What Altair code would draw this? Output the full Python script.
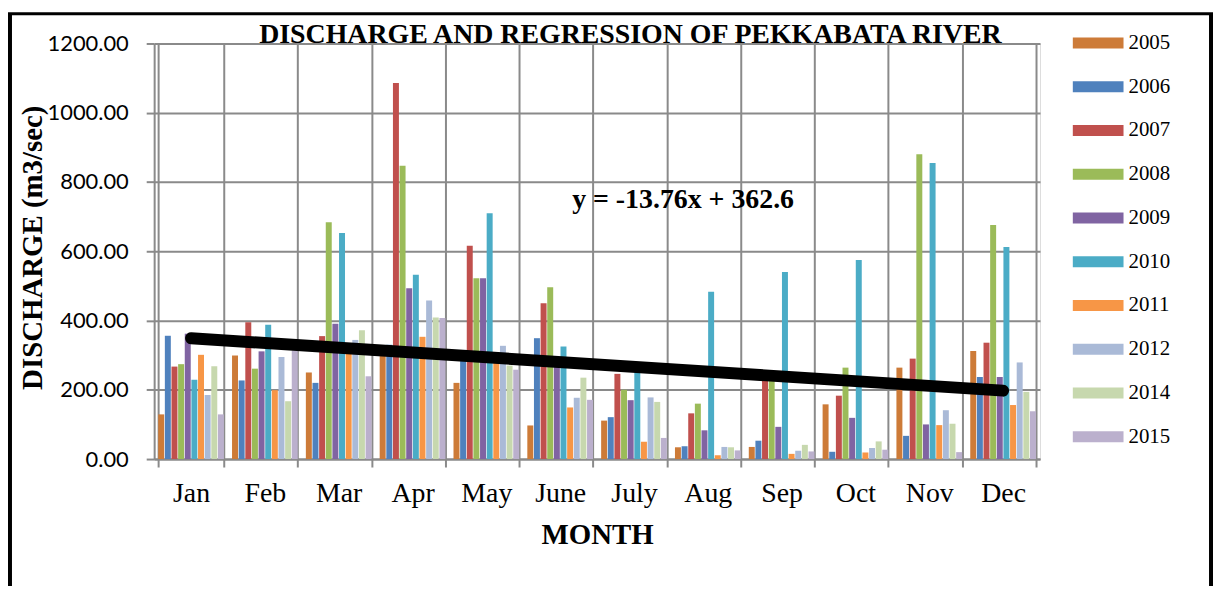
import altair as alt
import pandas as pd

months = ["Jan", "Feb", "Mar", "Apr", "May", "June", "July", "Aug", "Sep", "Oct", "Nov", "Dec"]
years = ["2005", "2006", "2007", "2008", "2009", "2010", "2011", "2012", "2014", "2015"]
colors = ["#CD7B38", "#4F81BD", "#C0504D", "#9BBB59", "#8064A2", "#4BACC6",
          "#F79646", "#AABAD7", "#C7D8AE", "#BBB0CD"]

# discharge per month (Jan..Dec) for each year, m3/sec
v2005 = [129, 299, 250, 327, 220, 97, 111, 34, 35, 158, 264, 312]
v2006 = [356, 227, 220, 330, 295, 349, 121, 37, 53, 21, 67, 237]
v2007 = [267, 395, 355, 1086, 616, 450, 246, 132, 238, 183, 290, 336]
v2008 = [274, 261, 684, 847, 522, 496, 200, 160, 232, 264, 880, 676]
v2009 = [362, 311, 391, 493, 522, 280, 170, 83, 93, 119, 100, 237]
v2010 = [229, 388, 653, 532, 710, 325, 260, 483, 540, 575, 855, 612]
v2011 = [301, 199, 325, 353, 285, 149, 50, 11, 15, 19, 98, 156]
v2012 = [185, 295, 344, 458, 327, 177, 178, 35, 24, 32, 141, 279]
v2014 = [268, 167, 372, 409, 270, 235, 165, 34, 41, 51, 102, 194]
v2015 = [129, 314, 239, 407, 258, 171, 61, 25, 22, 27, 20, 138]
series = [v2005, v2006, v2007, v2008, v2009, v2010, v2011, v2012, v2014, v2015]

# linear trend endpoints (y = -13.76x + 362.6 at x=1 and x=12)
trend_months = ["Jan", "Dec"]
trend_values = [348.84, 197.48]
equation = "y = -13.76x + 362.6"
title_text = "DISCHARGE AND REGRESSION OF PEKKABATA RIVER"

rows = []
for yr, vals in zip(years, series):
    for m, v in zip(months, vals):
        rows.append({"month": m, "year": yr, "value": v})
df = pd.DataFrame(rows)
trend_df = pd.DataFrame({"month": trend_months, "value": trend_values})

SERIF = "Liberation Serif"
GRID = "#8a8a8a"

x_enc = alt.X(
    "month:N", sort=months,
    scale=alt.Scale(paddingInner=0.11, paddingOuter=0.055),
    axis=alt.Axis(
        title="MONTH", labelAngle=0, labelFont=SERIF, labelFontSize=28, labelColor="black",
        labelPadding=13, tickSize=8, tickColor=GRID, tickWidth=2, tickBand="extent",
        domainColor=GRID, domainWidth=2, grid=True, gridColor=GRID, gridWidth=2,
        titleFont=SERIF, titleFontSize=29, titleFontWeight="bold", titleColor="black",
        titleBaseline="alphabetic", titleY=85, titleX=445.5, titleAlign="center",
    ),
)

y_enc = alt.Y(
    "value:Q",
    scale=alt.Scale(domain=[0, 1200], nice=False),
    axis=alt.Axis(
        title="DISCHARGE (m3/sec)", values=[0, 200, 400, 600, 800, 1000, 1200], format=".2f",
        labelFont="Lato", labelFontSize=22, labelColor="black", labelPadding=18,
        tickSize=8, tickColor=GRID, tickWidth=2, domainColor=GRID, domainWidth=2,
        grid=True, gridColor=GRID, gridWidth=2,
        titleFont=SERIF, titleFontSize=29, titleFontWeight="bold", titleColor="black",
        titleAngle=270, titleBaseline="alphabetic", titleAlign="center", titleX=-113, titleY=205,
    ),
)

bars = alt.Chart(df).mark_bar().encode(
    x=x_enc,
    xOffset=alt.XOffset("year:N", sort=years, scale=alt.Scale(paddingInner=0.1)),
    y=y_enc,
    color=alt.Color(
        "year:N", sort=years, title=None,
        scale=alt.Scale(domain=years, range=colors),
        legend=alt.Legend(
            orient="none", legendX=924, legendY=-26,
            symbolType="M-1,-0.2157H1V0.2157H-1Z", symbolSize=2601, symbolStrokeWidth=0,
            symbolOpacity=1, labelFont=SERIF, labelFontSize=21, labelColor="black",
            labelOffset=5, rowPadding=8,
        ),
    ),
)

trend = alt.Chart(trend_df).mark_line(color="black", strokeWidth=12, strokeCap="round").encode(
    x=alt.X("month:N", sort=months),
    y=alt.Y("value:Q"),
)

eq = alt.Chart(pd.DataFrame({"t": [equation]})).mark_text(
    font=SERIF, fontSize=28, fontWeight="bold", color="black", align="center", baseline="alphabetic"
).encode(text="t:N", x=alt.value(532), y=alt.value(165))

ttl = alt.Chart(pd.DataFrame({"t": [title_text]})).mark_text(
    font=SERIF, fontSize=28, fontWeight="bold", color="black", align="center", baseline="alphabetic"
).encode(text="t:N", x=alt.value(479), y=alt.value(0))

border_color = "black"
left_b = alt.Chart(pd.DataFrame({"a": [0]})).mark_rule(color=border_color, strokeWidth=4).encode(
    x=alt.value(-145), y=alt.value(-30), y2=alt.value(560))
right_b = alt.Chart(pd.DataFrame({"a": [0]})).mark_rule(color=border_color, strokeWidth=4).encode(
    x=alt.value(1063), y=alt.value(-30), y2=alt.value(560))
top_b = alt.Chart(pd.DataFrame({"a": [0]})).mark_rule(color=border_color, strokeWidth=3).encode(
    x=alt.value(-147), x2=alt.value(1065), y=alt.value(-30))

chart = alt.layer(bars, trend, eq, ttl, left_b, right_b, top_b).properties(
    width=891, height=418,
    autosize=alt.AutoSizeParams(type="none"),
    padding={"left": 147, "top": 34, "right": 174, "bottom": 126},
).configure_view(stroke=None).configure(background="white")

chart.save("out.html", embed_options={"renderer": "svg", "actions": False})
